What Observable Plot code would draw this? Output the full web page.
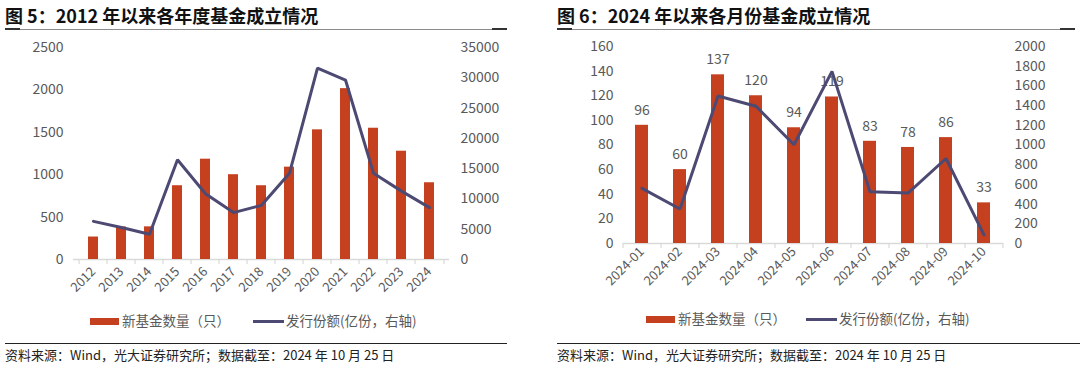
<!DOCTYPE html>
<html>
<head>
<meta charset="utf-8">
<script src="https://cdn.jsdelivr.net/npm/d3@7"></script>
<script src="https://cdn.jsdelivr.net/npm/@observablehq/plot@0.6"></script>
<style>
  html, body { margin:0; padding:0; background:#fff; }
  body { width:1080px; height:365px; position:relative; overflow:hidden; font-family:"Noto Sans CJK SC","Noto Sans",sans-serif; }
  .abs { position:absolute; }
  .title { font-size:18px; font-weight:bold; color:#111; white-space:nowrap; line-height:1; }
  .uline { height:1px; background:#8c8c8c; }
  .uend { height:2px; background:#333; width:15px; }
  .src { font-size:13px; color:#222; white-space:nowrap; line-height:1; }
  .sline { height:1px; background:#222; }
  .leg { font-size:13.5px; color:#595959; white-space:nowrap; line-height:1; }
  .sw-bar { height:7px; background:#C4401F; }
  .sw-line { height:3px; background:#4C4A73; }
</style>
</head>
<body>
<script>
// ---------- data ----------
const years = ["2012","2013","2014","2015","2016","2017","2018","2019","2020","2021","2022","2023","2024"];
const yearCount = [265, 383, 385, 870, 1183, 1000, 870, 1089, 1529, 2015, 1548, 1277, 905];
const yearShare = [6300, 5270, 4160, 16460, 10860, 7740, 8940, 14250, 31600, 29630, 14250, 11290, 8560];
const yearLeftTicks = [0, 500, 1000, 1500, 2000, 2500];
const yearRightTicks = [0, 5000, 10000, 15000, 20000, 25000, 30000, 35000];

const months = ["2024-01","2024-02","2024-03","2024-04","2024-05","2024-06","2024-07","2024-08","2024-09","2024-10"];
const monthCount = [96, 60, 137, 120, 94, 119, 83, 78, 86, 33];
const monthShare = [560, 350, 1498, 1393, 1002, 1747, 526, 512, 863, 87];
const monthLeftTicks = [0, 20, 40, 60, 80, 100, 120, 140, 160];
const monthRightTicks = [0, 200, 400, 600, 800, 1000, 1200, 1400, 1600, 1800, 2000];

const titles = ["图 5：2012 年以来各年度基金成立情况", "图 6：2024 年以来各月份基金成立情况"];
const legendBar = "新基金数量（只）";
const legendLine = "发行份额(亿份，右轴)";
const source = "资料来源：Wind，光大证券研究所；数据截至：2024 年 10 月 25 日";

const BAR = "#C4401F", LINE = "#4C4A73", GRAY = "#595959", AXIS = "#d9d9d9";
const FONT = "'Noto Sans CJK SC','Noto Sans',sans-serif";

function el(cls, css, text) {
  const d = document.createElement("div");
  d.className = "abs " + cls;
  Object.assign(d.style, css);
  if (text != null) d.textContent = text;
  document.body.appendChild(d);
  return d;
}

function dualChart({cats, counts, shares, leftTicks, rightTicks, width, height, ml, mr, mt, mb, labels, xPad}) {
  const data = cats.map((c, i) => ({cat: c, count: counts[i], share: shares[i]}));
  const lmax = leftTicks[leftTicks.length - 1], rmax = rightTicks[rightTicks.length - 1];
  const k = rmax / lmax;
  const step = (width - ml - mr) / cats.length;
  const marks = [
    Plot.ruleY([0], {stroke: AXIS, strokeWidth: 1.5}),
    Plot.ruleX(cats, {x: d => d, y1: 0, y2: 0, dx: -step / 2, insetBottom: -5, stroke: AXIS, strokeWidth: 1.2}),
    Plot.ruleX([cats[cats.length - 1]], {x: d => d, y1: 0, y2: 0, dx: step / 2, insetBottom: -5, stroke: AXIS, strokeWidth: 1.2}),
    Plot.barY(data, {x: "cat", y: "count", fill: BAR})
  ];
  if (labels) marks.push(Plot.text(data, {x: "cat", y: "count", text: d => String(d.count), dy: -15, fontSize: 14, fill: GRAY}));
  marks.push(
    Plot.lineY(data, {x: "cat", y: d => d.share / k, stroke: LINE, strokeWidth: 3, strokeLinejoin: "miter"}),
    Plot.axisY({ticks: leftTicks, tickFormat: d => String(d), tickSize: 0, tickPadding: 10, label: null, fontSize: 14, fill: GRAY}),
    Plot.axisY({anchor: "right", ticks: rightTicks.map(v => v / k), tickFormat: d => String(Math.round(d * k)), tickSize: 0, tickPadding: 11, label: null, fontSize: 14, fill: GRAY}),
    Plot.axisX({tickRotate: -45, tickSize: 0, tickPadding: xPad, label: null, fontSize: 13, fill: GRAY})
  );
  return Plot.plot({
    width, height, marginLeft: ml, marginRight: mr, marginTop: mt, marginBottom: mb,
    style: {fontFamily: FONT, fontSize: "14px", color: GRAY, background: "transparent"},
    x: {domain: cats, paddingInner: 0.65, paddingOuter: 0.325},
    y: {domain: [0, lmax]},
    marks
  });
}

// ---------- layout ----------
const panels = [
  {x0: 0, tx: 5, lineL: 5, lineR: 507, srcLineR: 507, legY: 321, sw1: 90, sw2: 253,
   chart: {cats: years, counts: yearCount, shares: yearShare, leftTicks: yearLeftTicks, rightTicks: yearRightTicks,
           width: 540, height: 265, ml: 73, mr: 91, mt: 12, mb: 41, labels: false, xPad: 10}},
  {x0: 540, tx: 557, lineL: 557, lineR: 1075, srcLineR: 1080, legY: 319, sw1: 646, sw2: 806,
   chart: {cats: months, counts: monthCount, shares: monthShare, leftTicks: monthLeftTicks, rightTicks: monthRightTicks,
           width: 540, height: 265, ml: 83, mr: 77, mt: 11, mb: 57, labels: true, xPad: 6}}
];

panels.forEach((p, i) => {
  el("title", {left: p.tx + "px", top: "6px"}, titles[i]);
  el("uline", {left: p.lineL + "px", top: "29px", width: (p.lineR - p.lineL) + "px"});
  el("uend", {left: p.lineL + "px", top: "28px"});
  el("uend", {left: (p.lineR - 15) + "px", top: "28px"});

  const holder = el("", {left: p.x0 + "px", top: "35px"});
  holder.appendChild(dualChart(p.chart));

  el("sw-bar", {left: p.sw1 + "px", top: (p.legY - 3.5) + "px", width: "29px"});
  el("leg", {left: (p.sw1 + 32) + "px", top: (p.legY - 7) + "px"}, legendBar);
  el("sw-line", {left: p.sw2 + "px", top: (p.legY - 1.5) + "px", width: "31px"});
  el("leg", {left: (p.sw2 + 33) + "px", top: (p.legY - 7) + "px"}, legendLine);

  el("sline", {left: p.tx + "px", top: "343px", width: (p.srcLineR - p.tx) + "px"});
  el("src", {left: p.tx + "px", top: "348px"}, source);
});
</script>
</body>
</html>
